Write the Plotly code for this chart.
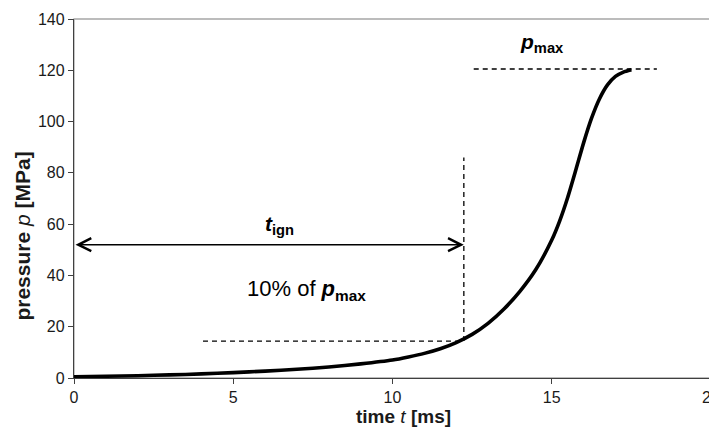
import plotly.graph_objects as go

# ---- data ----
time_ms = [0, 1, 2, 3, 4, 5, 6, 7, 8, 9, 10, 10.5, 11, 11.5, 12, 12.5, 13,
           13.5, 14, 14.5, 15, 15.25, 15.5, 15.75, 16, 16.25, 16.5, 16.75,
           17, 17.25, 17.5]
pressure_mpa = [0.5, 0.7, 0.9, 1.2, 1.6, 2.1, 2.7, 3.4, 4.3, 5.5, 7.0, 8.2,
                9.6, 11.4, 13.8, 17.0, 21.3, 26.9, 33.8, 42.3, 53.8, 61.3,
                70.4, 80.9, 91.7, 101.3, 108.9, 114.3, 117.6, 119.3, 120.2]

t_ign = 12.24          # ignition time [ms]
p_max = 120.5          # max pressure level line [MPa]
p_10 = 14.4            # 10 % of p_max level as drawn
pmax_line_t = [12.55, 18.3]
p10_line_t = [4.05, t_ign]
vline_p = [p_10, 86]
arrow_p = 52

x_ticks = [0, 5, 10, 15, 20]
y_ticks = [0, 20, 40, 60, 80, 100, 120, 140]

FONT = "Liberation Sans, Arial, sans-serif"

fig = go.Figure()
fig.add_trace(go.Scatter(
    x=time_ms, y=pressure_mpa, mode="lines",
    line=dict(color="black", width=3.6, shape="spline", smoothing=0.6),
    hoverinfo="skip", showlegend=False))

dash = "5px,4px"
shapes = [
    dict(type="rect", xref="paper", yref="paper", x0=0, y0=0, x1=1, y1=1,
         line=dict(color="#a6a6a6", width=1.3), layer="below"),
    dict(type="line", xref="x", yref="y", x0=pmax_line_t[0], x1=pmax_line_t[1],
         y0=p_max, y1=p_max, line=dict(color="black", width=1.3, dash=dash)),
    dict(type="line", xref="x", yref="y", x0=p10_line_t[0], x1=p10_line_t[1],
         y0=p_10, y1=p_10, line=dict(color="black", width=1.3, dash=dash)),
    dict(type="line", xref="x", yref="y", x0=t_ign, x1=t_ign,
         y0=vline_p[0], y1=vline_p[1], line=dict(color="black", width=1.3, dash=dash)),
]

annotations = [
    dict(x=t_ign, y=arrow_p, ax=0, ay=arrow_p, xref="x", yref="y",
         axref="x", ayref="y", text="", showarrow=True, arrowhead=5,
         startarrowhead=5, arrowside="end+start", arrowsize=1.7,
         startarrowsize=1.7, arrowwidth=1.5, arrowcolor="black",
         standoff=0, startstandoff=0),
    dict(x=6.44, y=59.6, xref="x", yref="y", showarrow=False,
         text="<b><i>t</i></b><b><sub>ign</sub></b>",
         font=dict(family=FONT, size=21, color="black")),
    dict(x=7.3, y=34.3, xref="x", yref="y", showarrow=False,
         text="10% of <b><i>p</i></b><b><sub>max</sub></b>",
         font=dict(family=FONT, size=22, color="black")),
    dict(x=14.7, y=130.5, xref="x", yref="y", showarrow=False,
         text="<b><i>p</i></b><b><sub>max</sub></b>",
         font=dict(family=FONT, size=21, color="black")),
    # axis titles
    dict(x=0.518, y=-0.106, xref="paper", yref="paper", showarrow=False,
         xanchor="center", yanchor="middle",
         text="<b>time </b><i>t</i><b> [ms]</b>",
         font=dict(family=FONT, size=19, color="#1a1a1a")),
    dict(x=-0.081, y=0.395, xref="paper", yref="paper", showarrow=False,
         xanchor="center", yanchor="middle", textangle=-90,
         text="<b>pressure </b><i>p</i><b> [MPa]</b>",
         font=dict(family=FONT, size=21, color="#1a1a1a")),
]

# the page body adds an 8px offset, so the figure is sized to the remaining window
fig.update_layout(
    width=709, height=426,
    margin=dict(l=66, r=6, t=11, b=56, pad=0),
    paper_bgcolor="white", plot_bgcolor="white",
    font=dict(family=FONT, size=16, color="#1a1a1a"),
    shapes=shapes, annotations=annotations,
    xaxis=dict(range=[0, 20], tickvals=x_ticks, ticktext=[str(v) for v in x_ticks],
               showgrid=False, zeroline=False, showline=True, linecolor="#404040",
               linewidth=1.3, ticks="outside", ticklen=5, tickcolor="#404040",
               tickfont=dict(size=16), automargin=False,
               ticklabeloverflow="allow"),
    yaxis=dict(range=[0, 140], tickvals=y_ticks, ticktext=[str(v) for v in y_ticks],
               showgrid=False, zeroline=False, showline=True, linecolor="#404040",
               linewidth=1.3, ticks="outside", ticklen=5, tickcolor="#404040",
               tickfont=dict(size=16), automargin=False,
               ticklabeloverflow="allow"),
)

fig.write_html("out.html")
